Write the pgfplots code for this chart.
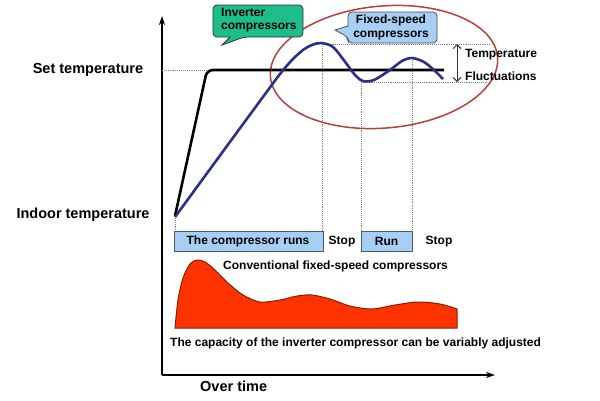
\documentclass[border=0pt]{standalone}
\usepackage{pgfplots}
\pgfplotsset{compat=1.18}
\usetikzlibrary{arrows.meta}
\usepackage{fontspec}
\setmainfont{Liberation Sans}
\definecolor{navyc}{HTML}{2B2F86}
\definecolor{ellc}{HTML}{B5403A}
\definecolor{greenb}{HTML}{1DBE8C}
\definecolor{blueb}{HTML}{A7CFF5}
\definecolor{boxedge}{HTML}{4A5A6A}
\definecolor{redfill}{HTML}{FF3300}
\definecolor{rededge}{HTML}{8B1A00}
\begin{document}
\begin{tikzpicture}
\begin{axis}[width=600pt,height=400pt,scale only axis,
  xmin=0,xmax=600,ymin=0,ymax=400,y dir=reverse,hide axis,clip=false]
% axes
\addplot[black, line width=1.2pt, -{Stealth[length=9pt,width=6pt]}] coordinates {(162,375)(162,16)};
\addplot[black, line width=1.2pt, -{Stealth[length=9pt,width=6pt]}] coordinates {(162,375)(495,375)};
% dotted guides
\addplot[gray, densely dotted, line width=0.9pt] coordinates {(162,70)(445,70)};
\addplot[gray, densely dotted, line width=0.9pt] coordinates {(175,216)(175,231)};
\addplot[gray, densely dotted, line width=0.9pt] coordinates {(322,44)(322,231)};
\addplot[gray, densely dotted, line width=0.9pt] coordinates {(361,82)(361,231)};
\addplot[gray, densely dotted, line width=0.9pt] coordinates {(412,58)(412,231)};
\addplot[gray, densely dotted, line width=0.9pt] coordinates {(322,44)(490,44)};
\addplot[gray, densely dotted, line width=0.9pt] coordinates {(361,82)(488,82)};
% fluctuation arrow
\addplot[black!80, line width=1pt, {Straight Barb[length=4pt]}-{Straight Barb[length=4pt]}] coordinates {(457,44)(457,82)};
% ellipse
\draw[ellc, line width=1.5pt] (384,67) ellipse [x radius=114, y radius=61, rotate=5];
% black curve
\addplot[black, line width=2.6pt, rounded corners=6pt] coordinates {(175,216)(207,70)(444,70)};
% blue curve
\addplot[navyc, line width=2.6pt, smooth, tension=0.5] coordinates {(175,217)(205,176)(235,135)(260,101)(280,74)(292,60)(303,50)(312,45)(321,43)(333,47)(346,63)(355,75)(363,81)(374,80)(390,70)(402,61)(412,58)(424,62)(435,71)(443,79)};
% red area
\addplot[fill=redfill, draw=rededge, line width=1pt, smooth, tension=0.5] coordinates {(175,328)(178,300)(183,278)(190,264)(197,260)(205,262)(215,270)(228,283)(243,295)(260,302)(280,300)(297,296)(312,295)(330,299)(350,306)(372,309)(395,305)(418,302)(440,304)(457,309)} -- (axis cs:457,328) -- (axis cs:175,328) -- cycle;
% boxes
\draw[fill=blueb, draw=boxedge, line width=0.8pt] (174,231) rectangle (323,251);
\draw[fill=blueb, draw=boxedge, line width=0.8pt] (361,231) rectangle (412,251);
\node[font=\bfseries\fontsize{12}{14}\selectfont] at (248,241) {The compressor runs};
\node[font=\bfseries\fontsize{12}{14}\selectfont] at (386.5,241) {Run};
\node[font=\bfseries\fontsize{12}{14}\selectfont] at (342,242) {Stop};
\node[font=\bfseries\fontsize{12}{14}\selectfont] at (439,242) {Stop};
% bubbles
\draw[fill=greenb, draw=black!80, line width=0.8pt, rounded corners=4pt] (213,5) -- (303,5) -- (303,37) -- (244,37) [sharp corners] -- (222,45) -- (230,37) [rounded corners=4pt] -- (213,37) -- cycle;
\node[font=\bfseries\fontsize{12}{13.5}\selectfont, anchor=north west, align=left, inner sep=0pt] at (221,8) {Inverter\\compressors};
\draw[fill=blueb, draw=black!70, line width=0.8pt, rounded corners=4pt] (348,12) -- (437,12) -- (437,43) -- (348,43) -- (348,37) [sharp corners] -- (335,30) -- (348,26) [rounded corners=4pt] -- cycle;
\node[font=\bfseries\fontsize{12}{13.5}\selectfont, align=center, inner sep=0pt] at (391,27.5) {Fixed-speed\\compressors};
% labels
\node[font=\bfseries\fontsize{14.5}{16}\selectfont] at (88,70) {Set temperature};
\node[font=\bfseries\fontsize{14.5}{16}\selectfont] at (83,215) {Indoor temperature};
\node[font=\bfseries\fontsize{14.5}{16}\selectfont, anchor=west, inner sep=0pt] at (200,386) {Over time};
\node[font=\bfseries\fontsize{12}{14}\selectfont, anchor=west, inner sep=0pt] at (465,55) {Temperature};
\node[font=\bfseries\fontsize{12}{14}\selectfont, anchor=west, inner sep=0pt] at (465,76) {Fluctuations};
\node[font=\bfseries\fontsize{12}{14}\selectfont, anchor=west, inner sep=0pt] at (223,266) {Conventional fixed-speed compressors};
\node[font=\bfseries\fontsize{12}{14}\selectfont, anchor=west, inner sep=0pt] at (170,343) {The capacity of the inverter compressor can be variably adjusted};
\end{axis}
\pgfresetboundingbox
\path (current axis.south west) rectangle (current axis.north east);
\end{tikzpicture}
\end{document}
